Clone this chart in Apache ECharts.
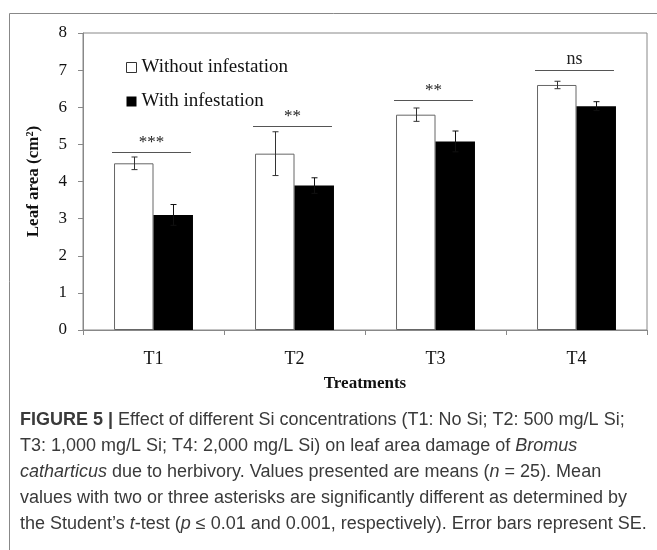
<!DOCTYPE html>
<html>
<head>
<meta charset="utf-8">
<script src="https://cdn.jsdelivr.net/npm/echarts@6/dist/echarts.min.js"></script>
<style>
  html, body { margin: 0; padding: 0; background: #fff; }
  #chart { width: 657px; height: 550px; }
</style>
</head>
<body>
<div id="chart"></div>
<script>
  // 数据
  const categories = ['T1', 'T2', 'T3', 'T4']
  const withoutInf = [4.49, 4.75, 5.80, 6.60]
  const withoutSE = [0.17, 0.59, 0.18, 0.10]
  const withInf = [3.10, 3.89, 5.08, 6.03]
  const withSE = [0.28, 0.21, 0.28, 0.12]
  const sigLabels = ['***', '**', '**', 'ns']
  const sigLevels = [4.8, 5.5, 6.2, 7.0]

  const serif = 'Liberation Serif'
  const BAR_FRAC = 0.28

  const myChart = echarts.init(document.getElementById('chart'))

  // 误差线
  const errorItem = (side, color) => (params, api) => {
    const i = api.value(0)
    const v = api.value(1)
    const se = api.value(2)
    const bw = api.size([1, 0])[0] * BAR_FRAC
    const cx = Math.round(api.coord([i, v])[0] + side * bw / 2) + 0.5
    const top = api.coord([i, v + se])[1]
    const bot = api.coord([i, v - se])[1]
    const st = { stroke: color, lineWidth: 1 }
    return {
      type: 'group',
      children: [
        { type: 'line', shape: { x1: cx, y1: top, x2: cx, y2: bot }, style: st },
        { type: 'line', shape: { x1: cx - 3, y1: top, x2: cx + 3, y2: top }, style: st },
        { type: 'line', shape: { x1: cx - 3, y1: bot, x2: cx + 3, y2: bot }, style: st }
      ]
    }
  }

  // 显著性标记
  const sigItem = (params, api) => {
    const i = api.value(0)
    const y = api.value(1)
    const bw = api.size([1, 0])[0] * BAR_FRAC
    const p = api.coord([i, y])
    const ly = Math.round(p[1]) + 0.5
    const label = sigLabels[params.dataIndex]
    return {
      type: 'group',
      children: [
        {
          type: 'line',
          shape: { x1: p[0] - bw - 2, y1: ly, x2: p[0] + bw - 2, y2: ly },
          style: { stroke: '#555', lineWidth: 1 }
        },
        {
          type: 'text',
          x: p[0] - 2,
          y: ly - (label === 'ns' ? 2 : 1),
          style: {
            text: label,
            fontFamily: serif,
            fontSize: label === 'ns' ? 18 : 17,
            fill: '#222',
            align: 'center',
            verticalAlign: 'bottom'
          }
        }
      ]
    }
  }

  const captionStyle = {
    fontFamily: 'Liberation Sans',
    fontSize: 18,
    fill: '#3a3a3a',
    rich: {
      b: { fontFamily: 'Liberation Sans', fontSize: 18, fontWeight: 'bold', color: '#222' },
      i: { fontFamily: 'Liberation Sans', fontSize: 18, fontStyle: 'italic', color: '#3a3a3a' }
    }
  }
  const captionLines = [
    '{b|FIGURE 5 | }Effect of different Si concentrations (T1: No Si; T2: 500 mg/L Si;',
    'T3: 1,000 mg/L Si; T4: 2,000 mg/L Si) on leaf area damage of {i|Bromus}',
    '{i|catharticus} due to herbivory. Values presented are means ({i|n} = 25). Mean',
    'values with two or three asterisks are significantly different as determined by',
    'the Student\u2019s {i|t}-test ({i|p} \u2264 0.01 and 0.001, respectively). Error bars represent SE.'
  ]

  const option = {
    animation: false,
    backgroundColor: '#fff',
    grid: {
      left: 83,
      right: 10,
      top: 33,
      bottom: 220,
      show: true,
      borderColor: '#888',
      borderWidth: 1
    },
    legend: {
      orient: 'vertical',
      left: 121,
      top: 53,
      itemWidth: 10,
      itemHeight: 10,
      itemGap: 15,
      textStyle: { fontFamily: serif, fontSize: 19, color: '#111' },
      data: [
        { name: 'Without infestation', icon: 'rect', itemStyle: { color: '#fff', borderColor: '#333', borderWidth: 1 } },
        { name: 'With infestation', icon: 'rect', itemStyle: { color: '#000' } }
      ]
    },
    xAxis: {
      type: 'category',
      data: categories,
      axisLine: { lineStyle: { color: '#888' } },
      axisTick: { show: true, length: 5, lineStyle: { color: '#888' } },
      axisLabel: { fontFamily: serif, fontSize: 18, color: '#111', margin: 20 },
      name: 'Treatments',
      nameLocation: 'middle',
      nameGap: 45,
      nameTextStyle: { fontFamily: serif, fontSize: 17, fontWeight: 'bold', color: '#111' }
    },
    yAxis: {
      type: 'value',
      min: 0,
      max: 8,
      interval: 1,
      splitLine: { show: false },
      axisLine: { show: true, lineStyle: { color: '#888' } },
      axisTick: { show: true, length: 5, lineStyle: { color: '#888' } },
      axisLabel: { fontFamily: serif, fontSize: 17, color: '#111', margin: 16 },
      name: 'Leaf area (cm\u00b2)',
      nameLocation: 'middle',
      nameGap: 41,
      nameTextStyle: { fontFamily: serif, fontSize: 17, fontWeight: 'bold', color: '#111' }
    },
    graphic: [
      {
        type: 'polyline',
        shape: { points: [[9.5, 550], [9.5, 13.5], [657, 13.5]] },
        style: { stroke: '#888', fill: null, lineWidth: 1 }
      },
      ...captionLines.map((t, k) => ({
        type: 'text',
        left: 20,
        top: 411 + k * 26,
        style: Object.assign({ text: t }, captionStyle)
      }))
    ],
    series: [
      {
        name: 'Without infestation',
        type: 'bar',
        data: withoutInf,
        barWidth: BAR_FRAC * 100 + '%',
        barGap: '0%',
        itemStyle: { color: '#fff', borderColor: '#666', borderWidth: 1 }
      },
      {
        name: 'With infestation',
        type: 'bar',
        data: withInf,
        barWidth: BAR_FRAC * 100 + '%',
        barGap: '0%',
        itemStyle: { color: '#000' }
      },
      {
        type: 'custom',
        renderItem: errorItem(-1, '#333'),
        data: withoutInf.map((v, i) => [i, v, withoutSE[i]]),
        z: 5
      },
      {
        type: 'custom',
        renderItem: errorItem(1, '#111'),
        data: withInf.map((v, i) => [i, v, withSE[i]]),
        z: 5
      },
      {
        type: 'custom',
        renderItem: sigItem,
        data: sigLevels.map((v, i) => [i, v]),
        z: 5
      }
    ]
  }

  myChart.setOption(option)
</script>
</body>
</html>
